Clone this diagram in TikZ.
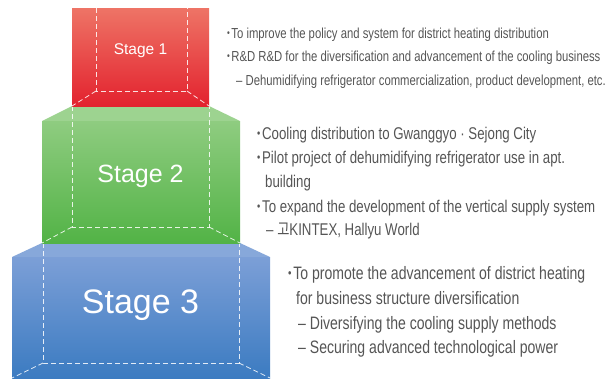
\documentclass[tikz,border=0pt]{standalone}
\usepackage{fontspec}
\setmainfont{Liberation Sans}
\newfontfamily\condf[FakeStretch=0.78]{Liberation Sans}
\newfontfamily\cjkf[FakeStretch=0.78]{Noto Sans CJK KR}
\newfontfamily\stagef{Liberation Sans}
\definecolor{txt}{HTML}{555555}
\definecolor{redT}{HTML}{EE7466}
\definecolor{redB}{HTML}{E3222E}
\definecolor{grnT}{HTML}{8FCC80}
\definecolor{grnB}{HTML}{52B346}
\definecolor{grnF}{HTML}{9DD390}
\definecolor{bluT}{HTML}{7C9FD7}
\definecolor{bluB}{HTML}{3B7BC1}
\definecolor{bluF}{HTML}{87A8DA}
\newcommand{\bul}{{\fontsize{0.7em}{0.7em}\selectfont\raisebox{0.1em}{•}}\hspace{0.1em}}
\begin{document}
\begin{tikzpicture}[x=1pt,y=-1pt,
  edge/.style={draw=white,opacity=0.85,line width=0.8pt,dash pattern=on 5pt off 3pt},
  line/.style={anchor=base west,inner sep=0pt,text=txt,font=\condf\fontsize{14.5}{14.5}\selectfont},
  lineb/.style={line,font=\condf\fontsize{17}{17}\selectfont},
  linec/.style={line,font=\condf\fontsize{18}{18}\selectfont},
  stagelbl/.style={text=white,inner sep=0pt}]
\useasboundingbox (0,0) rectangle (613,378);
% Stage 3
\fill[bluF] (42,243) -- (240,243) -- (270,257) -- (12,257) -- cycle;
\shade[top color=bluT,bottom color=bluB] (12,257) rectangle (270,378);
\draw[edge] (43,243) -- (43,363) -- (239,363) -- (239,243);
\draw[edge] (43,363) -- (12,378);
\draw[edge] (239,363) -- (270,378);
% Stage 2
\fill[grnF] (72,106) -- (209,106) -- (240,121) -- (42,121) -- cycle;
\shade[top color=grnT,bottom color=grnB] (42,121) rectangle (240,243);
\draw[edge] (72,106) -- (72,227) -- (209,227) -- (209,106);
\draw[edge] (72,227) -- (42,243);
\draw[edge] (209,227) -- (240,243);
% Stage 1
\shade[top color=redT,bottom color=redB] (72,8) rectangle (209,106);
\draw[edge] (96,8) -- (96,91) -- (187,91) -- (187,8);
\draw[edge] (96,91) -- (72,106);
\draw[edge] (187,91) -- (209,106);
% labels
\node[stagelbl,font=\stagef\fontsize{15.5}{15.5}\selectfont] (s1) at (140.5,51) {Stage 1};
\node[stagelbl,font=\stagef\fontsize{25}{25}\selectfont] (s2) at (140.5,176) {Stage 2};
\node[stagelbl,font=\stagef\fontsize{34}{34}\selectfont] (s3) at (140.5,305) {Stage 3};
% texts stage 1
\node[line] (a1) at (227,38) {\bul To improve the policy and system for district heating distribution};
\node[line] (a2) at (227,61) {\bul R\&D R\&D for the diversification and advancement of the cooling business};
\node[line] (a3) at (236,85) {– Dehumidifying refrigerator commercialization, product development, etc.};
% texts stage 2
\node[lineb] (b1) at (257,139) {\bul Cooling distribution to Gwanggyo · Sejong City};
\node[lineb] (b2) at (257,163) {\bul Pilot project of dehumidifying refrigerator use in apt.};
\node[lineb] (b3) at (265,187) {building};
\node[lineb] (b4) at (257,212) {\bul To expand the development of the vertical supply system};
\node[lineb] (b5) at (266,235) {– {\cjkf 고}KINTEX, Hallyu World};
% texts stage 3
\node[linec] (c1) at (288,279) {\bul To promote the advancement of district heating};
\node[linec] (c2) at (296,304) {for business structure diversification};
\node[linec] (c3) at (298,329) {– Diversifying the cooling supply methods};
\node[linec] (c4) at (298,353) {– Securing advanced technological power};
\end{tikzpicture}
\end{document}
